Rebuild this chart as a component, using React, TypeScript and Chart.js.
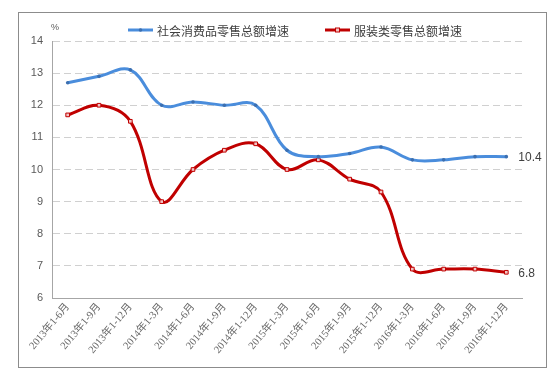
import React, { useEffect, useRef } from "react";
import { Chart, registerables } from "chart.js";

Chart.register(...registerables);

const categories = [
  "2013年1-6月", "2013年1-9月", "2013年1-12月",
  "2014年1-3月", "2014年1-6月", "2014年1-9月", "2014年1-12月",
  "2015年1-3月", "2015年1-6月", "2015年1-9月", "2015年1-12月",
  "2016年1-3月", "2016年1-6月", "2016年1-9月", "2016年1-12月",
];
const retailGrowth = [12.7, 12.9, 13.1, 12.0, 12.1, 12.0, 12.0, 10.6, 10.4, 10.5, 10.7, 10.3, 10.3, 10.4, 10.4];
const apparelGrowth = [11.7, 12.0, 11.5, 9.0, 10.0, 10.6, 10.8, 10.0, 10.3, 9.7, 9.3, 6.9, 6.9, 6.9, 6.8];
const seriesNames = ["社会消费品零售总额增速", "服装类零售总额增速"];
const yTicks = [6, 7, 8, 9, 10, 11, 12, 13, 14];
const unitLabel = "%";

const BLUE = "#4a8ddc";
const RED = "#c00000";

const decor = {
  id: "decor",
  beforeDraw(chart: any) {
    const { ctx } = chart;
    ctx.save();
    ctx.fillStyle = "#ffffff";
    ctx.fillRect(0, 0, chart.width, chart.height);
    ctx.strokeStyle = "#8c8c8c";
    ctx.lineWidth = 1;
    ctx.strokeRect(18.5, 12.5, 528, 355);
    ctx.restore();
  },
  afterDatasetsDraw(chart: any) {
    const { ctx } = chart;
    ctx.save();
    ctx.font = "12px 'Liberation Sans', Arial, sans-serif";
    ctx.fillStyle = "#404040";
    ctx.textAlign = "left";
    ctx.textBaseline = "middle";
    chart.data.datasets.forEach((ds: any, i: number) => {
      const meta = chart.getDatasetMeta(i);
      const last = meta.data[meta.data.length - 1];
      const v = ds.data[ds.data.length - 1];
      ctx.fillText(String(v.toFixed(1)), last.x + 12, last.y + 1);
    });
    ctx.font = "9px 'Liberation Sans', Arial, sans-serif";
    ctx.fillStyle = "#595959";
    ctx.textAlign = "center";
    ctx.fillText(unitLabel, 55, 28);
    const items = [
      { x: 128, color: BLUE, rect: false },
      { x: 325, color: RED, rect: true },
    ];
    const ly = 30;
    ctx.font = "12px 'Noto Sans CJK SC', sans-serif";
    ctx.textAlign = "left";
    items.forEach((it, i) => {
      ctx.strokeStyle = it.color;
      ctx.lineWidth = 3;
      ctx.beginPath();
      ctx.moveTo(it.x, ly);
      ctx.lineTo(it.x + 25, ly);
      ctx.stroke();
      if (it.rect) {
        ctx.fillStyle = "#f2c4c4";
        ctx.fillRect(it.x + 10.5, ly - 2, 4, 4);
        ctx.lineWidth = 1;
        ctx.strokeRect(it.x + 10.5, ly - 2, 4, 4);
      } else {
        ctx.fillStyle = "#3c6fb0";
        ctx.beginPath();
        ctx.arc(it.x + 12.5, ly, 1.8, 0, Math.PI * 2);
        ctx.fill();
      }
      ctx.fillStyle = "#404040";
      ctx.fillText(seriesNames[i], it.x + 29, ly + 1);
    });
    ctx.restore();
  },
};

export default function App() {
  const ref = useRef<HTMLCanvasElement | null>(null);
  useEffect(() => {
    if (!ref.current) return;
    const chart = new Chart(ref.current, {
      type: "line",
      data: {
        labels: categories,
        datasets: [
          {
            label: seriesNames[0],
            data: retailGrowth,
            borderColor: BLUE,
            borderWidth: 3,
            tension: 0.38,
            pointStyle: "circle",
            pointRadius: 1.8,
            pointBackgroundColor: "#3c6fb0",
            pointBorderColor: "#3c6fb0",
            pointBorderWidth: 0,
            fill: false,
          },
          {
            label: seriesNames[1],
            data: apparelGrowth,
            borderColor: RED,
            borderWidth: 3,
            tension: 0.38,
            pointStyle: "rect",
            pointRadius: 2.6,
            pointBackgroundColor: "#f2c4c4",
            pointBorderColor: RED,
            pointBorderWidth: 1,
            fill: false,
          },
        ],
      },
      options: {
        responsive: false,
        animation: false,
        layout: { padding: { left: 18, right: 33, top: 41, bottom: 0 } },
        plugins: {
          legend: { display: false },
          tooltip: { enabled: false },
        },
        scales: {
          x: {
            offset: true,
            grid: { display: false, drawTicks: false },
            border: { display: true, color: "#a6a6a6", width: 1 },
            ticks: {
              minRotation: 50,
              maxRotation: 50,
              autoSkip: false,
              padding: 3,
              color: "#666666",
              font: { family: "'Liberation Serif', 'Noto Sans CJK SC', serif", size: 10.5 },
            },
            afterFit: (s: any) => { s.height = 79; },
          },
          y: {
            min: 6,
            max: 14,
            afterBuildTicks: (s: any) => { s.ticks = yTicks.map((v) => ({ value: v })); },
            grid: { color: "#d0d0d0", lineWidth: 1, drawTicks: false },
            border: { display: true, color: "#a6a6a6", width: 1, dash: [7, 4] },
            ticks: {
              padding: 9,
              color: "#595959",
              font: { family: "'Liberation Sans', Arial, sans-serif", size: 11 },
            },
            afterFit: (s: any) => { s.width = 34; },
          },
        },
      },
      plugins: [decor],
    });
    return () => chart.destroy();
  }, []);
  return (
    <div style={{ position: "fixed", left: 0, top: 0, width: 555, height: 377 }}>
      <canvas ref={ref} width={555} height={377} style={{ width: 555, height: 377 }} />
    </div>
  );
}
